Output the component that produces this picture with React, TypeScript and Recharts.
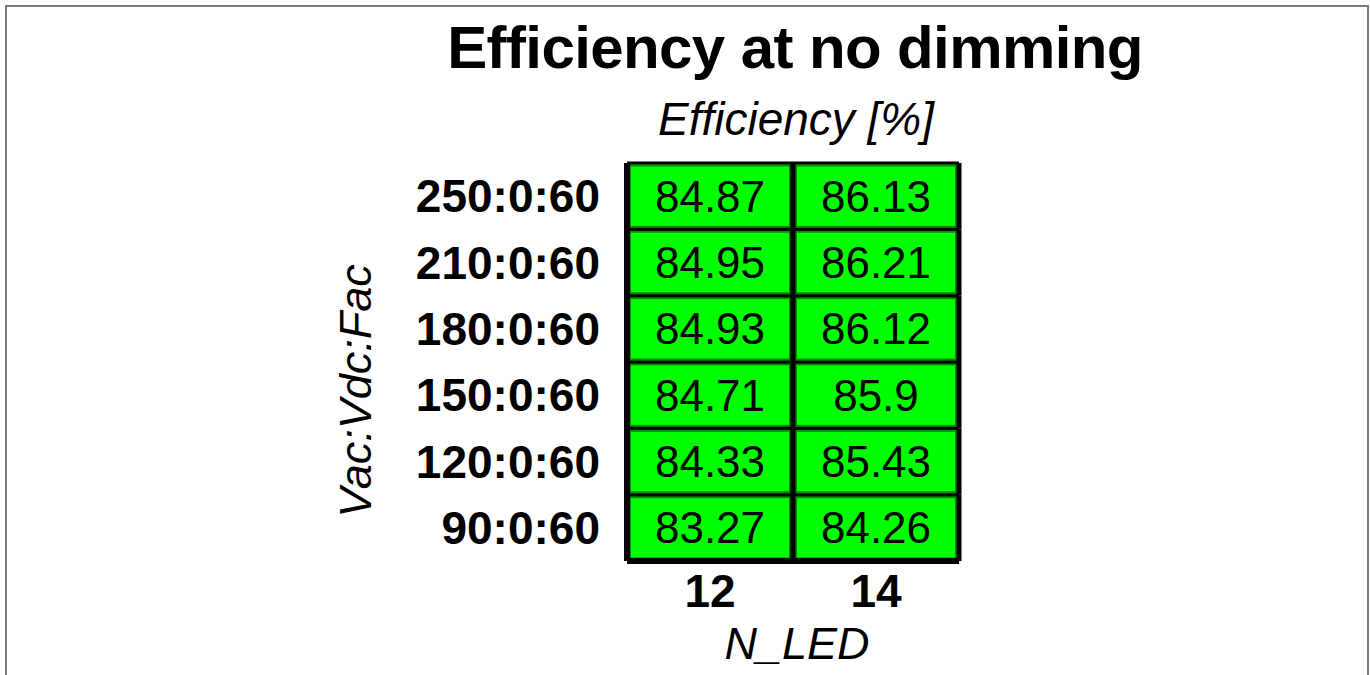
import React from 'react';
import { BarChart, Bar, XAxis, YAxis, LabelList, Label } from 'recharts';

const nLed = ['12', '14'];
const rowLabels = ['90:0:60', '120:0:60', '150:0:60', '180:0:60', '210:0:60', '250:0:60'];
const eff12 = [83.27, 84.33, 84.71, 84.93, 84.95, 84.87];
const eff14 = [84.26, 85.43, 85.9, 86.12, 86.21, 86.13];
const title = 'Efficiency at no dimming';
const colorTitle = 'Efficiency [%]';
const xTitle = 'N_LED';
const yTitle = 'Vac:Vdc:Fac';

const FONT = '"Liberation Sans", Arial, Helvetica, sans-serif';
const seriesByCol = [eff12, eff14];

const data = nLed.map((n, i) => {
  const row: Record<string, any> = { n };
  rowLabels.forEach((_, j) => {
    row[`r${j}`] = 1;
    row[`v${j}`] = seriesByCol[i][j];
  });
  return row;
});

const CellShape = (p: any) => {
  const { x, y, width, height } = p;
  return (
    <g>
      <rect x={x} y={y} width={width} height={height} fill="#00ff00" />
      <rect x={x + 3} y={y + 2.5} width={width - 6} height={height - 5} fill="none" stroke="#009000" strokeWidth={2} />
      <line x1={x} x2={x + width} y1={y} y2={y} stroke="#000" strokeWidth={3} />
      <line x1={x} x2={x + width} y1={y + height} y2={y + height} stroke="#000" strokeWidth={3} />
      <line x1={x} x2={x} y1={y} y2={y + height} stroke="#000" strokeWidth={5} />
      <line x1={x + width} x2={x + width} y1={y} y2={y + height} stroke="#000" strokeWidth={5} />
    </g>
  );
};

const YTitle = (props: any) => {
  const vb = props.viewBox || {};
  const cx = vb.x + 28;
  const cy = vb.y + vb.height / 2 + 29;
  return (
    <text
      x={cx}
      y={cy}
      transform={`rotate(-90, ${cx}, ${cy})`}
      textAnchor="middle"
      dy="0.355em"
      fontFamily={FONT}
      fontStyle="italic"
      fontSize={45}
      fill="#000"
    >
      {yTitle}
    </text>
  );
};

const XTitle = (props: any) => {
  const vb = props.viewBox || {};
  return (
    <text
      x={vb.x + vb.width / 2 + 4}
      y={vb.y + 82}
      textAnchor="middle"
      dy="0.355em"
      fontFamily={FONT}
      fontStyle="italic"
      fontSize={45}
      fill="#000"
    >
      {xTitle}
    </text>
  );
};

export default function App() {
  return (
    <div style={{ position: 'absolute', left: 0, top: 0, width: 1370, height: 675, background: '#fff', overflow: 'hidden' }}>
      <div
        style={{
          position: 'absolute',
          left: 5,
          top: 5,
          width: 1360,
          height: 670,
          borderLeft: '2px solid #7a7a7a',
          borderTop: '2px solid #7a7a7a',
          borderRight: '2px solid #7a7a7a',
          boxSizing: 'content-box',
        }}
      />
      <div style={{ position: 'absolute', left: 0, top: 0 }}>
        <BarChart
          width={1370}
          height={675}
          data={data}
          margin={{ top: 163, right: 411, bottom: 0, left: 327 }}
          barCategoryGap={0}
          barGap={0}
        >
          <XAxis
            dataKey="n"
            type="category"
            height={114}
            axisLine={{ stroke: '#000', strokeWidth: 6 }}
            tickLine={false}
            tickSize={6}
            tickMargin={7}
            tick={{ fontFamily: FONT, fontWeight: 'bold', fontSize: 46, fill: '#000' }}
          >
            <Label content={<XTitle />} />
          </XAxis>
          <XAxis
            xAxisId="top"
            dataKey="n"
            orientation="top"
            height={0}
            tick={false}
            tickLine={false}
            axisLine={{ stroke: '#7a7a7a', strokeWidth: 3 }}
          />
          <YAxis
            type="number"
            domain={[0, 6]}
            ticks={[0.5, 1.5, 2.5, 3.5, 4.5, 5.5]}
            tickFormatter={(v: number) => rowLabels[Math.floor(v)]}
            width={300}
            axisLine={{ stroke: '#000', strokeWidth: 6 }}
            tickLine={false}
            tickSize={6}
            tickMargin={21}
            interval={0}
            tick={{ fontFamily: FONT, fontWeight: 'bold', fontSize: 46, fill: '#000' }}
          >
            <Label content={<YTitle />} />
          </YAxis>
          <YAxis
            yAxisId="right"
            orientation="right"
            type="number"
            domain={[0, 6]}
            width={0}
            tick={false}
            tickLine={false}
            axisLine={{ stroke: '#000', strokeWidth: 6 }}
          />
          {rowLabels.map((_, j) => (
            <Bar key={j} dataKey={`r${j}`} stackId="a" shape={<CellShape />} isAnimationActive={false}>
              <LabelList
                dataKey={`v${j}`}
                position="center"
                fill="#000"
                fontFamily={FONT}
                fontSize={44}
              />
            </Bar>
          ))}
        </BarChart>
      </div>
      <svg width={1370} height={675} style={{ position: 'absolute', left: 0, top: 0, pointerEvents: 'none' }}>
        <text x={795} y={68} textAnchor="middle" fontFamily={FONT} fontWeight="bold" fontSize={60} letterSpacing={-0.6} fill="#000">
          {title}
        </text>
        <text x={796} y={135} textAnchor="middle" fontFamily={FONT} fontStyle="italic" fontSize={46} fill="#000">
          {colorTitle}
        </text>
      </svg>
    </div>
  );
}
